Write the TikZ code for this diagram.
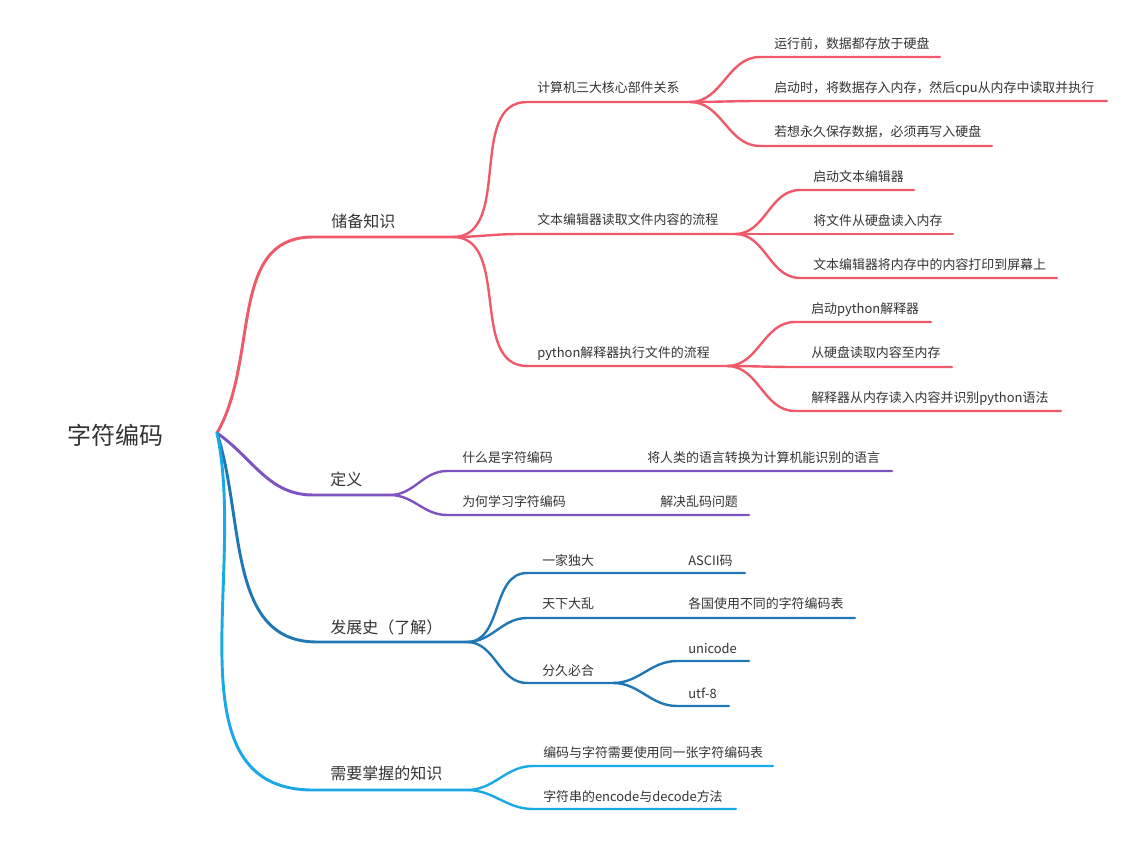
\documentclass[tikz,border=0pt]{standalone}
\usepackage{fontspec}
\setmainfont{Noto Sans CJK SC}
\usepackage{xcolor}
\usepackage{tikz}
\definecolor{brred}{HTML}{F0596A}
\definecolor{brpurple}{HTML}{7E52C0}
\definecolor{brblue}{HTML}{1F77B6}
\definecolor{brsky}{HTML}{1AA8E6}
\definecolor{txt}{HTML}{333333}

\begin{document}
\begin{tikzpicture}[x=0.75pt, y=-0.75pt,
  lvone/.style={anchor=base west, inner sep=0pt, text=txt, font=\fontsize{12}{14}\selectfont},
  lvtwo/.style={anchor=base west, inner sep=0pt, text=txt, font=\fontsize{9.7}{12}\selectfont},
  br/.style={line width=2.2pt, line cap=round},
  sub/.style={line width=1.8pt, line cap=round}]
\useasboundingbox (0,0) rectangle (1134,841);

% root
\node[inner sep=0pt, text=txt, font=\fontsize{18}{20}\selectfont] (root) at (115,435) {字符编码};
\coordinate (r) at (217,433);

% 储备知识
\coordinate (prep-a) at (313,237); \coordinate (prep-b) at (453,237);
\node[lvone] (prep) at (331,228) {储备知识};
\draw[br, brred] (r) to[out=60, in=180] (prep-a) -- (prep-b);

\coordinate (cpu-a) at (527,102); \coordinate (cpu-b) at (690,102);
\node[lvtwo] (cpu) at (537,93) {计算机三大核心部件关系};
\coordinate (edit-a) at (520,234); \coordinate (edit-b) at (735,234);
\node[lvtwo] (edit) at (537,225) {文本编辑器读取文件内容的流程};
\coordinate (run-a) at (527,366); \coordinate (run-b) at (727,366);
\node[lvtwo] (run) at (537,358) {python解释器执行文件的流程};
\draw[sub, brred] (prep-b) to[out=0, in=180] (cpu-a) -- (cpu-b);
\draw[sub, brred] (prep-b) to[out=0, in=180] (edit-a) -- (edit-b);
\draw[sub, brred] (prep-b) to[out=0, in=180] (run-a) -- (run-b);

\coordinate (c1-a) at (760,57); \coordinate (c1-b) at (940,57);
\node[lvtwo] (c1) at (774,49) {运行前，数据都存放于硬盘};
\coordinate (c2-a) at (760,101); \coordinate (c2-b) at (1107,101);
\node[lvtwo] (c2) at (774,93) {启动时，将数据存入内存，然后cpu从内存中读取并执行};
\coordinate (c3-a) at (760,146); \coordinate (c3-b) at (992,146);
\node[lvtwo] (c3) at (774,137) {若想永久保存数据，必须再写入硬盘};
\draw[sub, brred] (cpu-b) to[out=0, in=180] (c1-a) -- (c1-b);
\draw[sub, brred] (cpu-b) to[out=0, in=180] (c2-a) -- (c2-b);
\draw[sub, brred] (cpu-b) to[out=0, in=180] (c3-a) -- (c3-b);

\coordinate (e1-a) at (800,190); \coordinate (e1-b) at (914,190);
\node[lvtwo] (e1) at (813,182) {启动文本编辑器};
\coordinate (e2-a) at (800,234); \coordinate (e2-b) at (953,234);
\node[lvtwo] (e2) at (813,226) {将文件从硬盘读入内存};
\coordinate (e3-a) at (800,278); \coordinate (e3-b) at (1057,278);
\node[lvtwo] (e3) at (813,270) {文本编辑器将内存中的内容打印到屏幕上};
\draw[sub, brred] (edit-b) to[out=0, in=180] (e1-a) -- (e1-b);
\draw[sub, brred] (edit-b) to[out=0, in=180] (e2-a) -- (e2-b);
\draw[sub, brred] (edit-b) to[out=0, in=180] (e3-a) -- (e3-b);

\coordinate (p1-a) at (795,322); \coordinate (p1-b) at (931,322);
\node[lvtwo] (p1) at (811,314) {启动python解释器};
\coordinate (p2-a) at (795,367); \coordinate (p2-b) at (952,367);
\node[lvtwo] (p2) at (811,358) {从硬盘读取内容至内存};
\coordinate (p3-a) at (795,411); \coordinate (p3-b) at (1061,411);
\node[lvtwo] (p3) at (811,402) {解释器从内存读入内容并识别python语法};
\draw[sub, brred] (run-b) to[out=0, in=180] (p1-a) -- (p1-b);
\draw[sub, brred] (run-b) to[out=0, in=180] (p2-a) -- (p2-b);
\draw[sub, brred] (run-b) to[out=0, in=180] (p3-a) -- (p3-b);

% 定义
\coordinate (def-a) at (313,495); \coordinate (def-b) at (390,495);
\node[lvone] (def) at (330,485) {定义};
\draw[br, brpurple] (r) to[out=-35, in=180] (def-a) -- (def-b);

\coordinate (what-a) at (447,471); \coordinate (what-b) at (562,471);
\node[lvtwo] (what) at (462,462) {什么是字符编码};
\coordinate (mean-b) at (892,471);
\node[lvtwo] (mean) at (647,462) {将人类的语言转换为计算机能识别的语言};
\coordinate (why-a) at (447,515); \coordinate (why-b) at (575,515);
\node[lvtwo] (why) at (462,506) {为何学习字符编码};
\coordinate (fix-b) at (749,515);
\node[lvtwo] (fix) at (660,506) {解决乱码问题};
\draw[sub, brpurple] (def-b) to[out=0, in=180] (what-a) -- (what-b) -- (mean-b);
\draw[sub, brpurple] (def-b) to[out=0, in=180] (why-a) -- (why-b) -- (fix-b);

% 发展史
\coordinate (hist-a) at (317,642); \coordinate (hist-b) at (467,642);
\node[lvone] (hist) at (330,633) {发展史（了解）};
\draw[br, brblue] (r) to[out=-72, in=180] (hist-a) -- (hist-b);

\coordinate (mono-a) at (527,573); \coordinate (mono-b) at (603,573);
\node[lvtwo] (mono) at (542,565) {一家独大};
\coordinate (ascii-b) at (745,573);
\node[lvtwo] (ascii) at (688,565) {ASCII码};
\coordinate (chaos-a) at (527,618); \coordinate (chaos-b) at (603,618);
\node[lvtwo] (chaos) at (542,608) {天下大乱};
\coordinate (nat-b) at (855,618);
\node[lvtwo] (nat) at (688,608) {各国使用不同的字符编码表};
\coordinate (unite-a) at (527,683); \coordinate (unite-b) at (613,683);
\node[lvtwo] (unite) at (542,675) {分久必合};
\draw[sub, brblue] (hist-b) to[out=0, in=180] (mono-a) -- (mono-b) -- (ascii-b);
\draw[sub, brblue] (hist-b) to[out=0, in=180] (chaos-a) -- (chaos-b) -- (nat-b);
\draw[sub, brblue] (hist-b) to[out=0, in=180] (unite-a) -- (unite-b);

\coordinate (uni-a) at (677,661); \coordinate (uni-b) at (749,661);
\node[lvtwo] (uni) at (688,653) {unicode};
\coordinate (utf-a) at (677,706); \coordinate (utf-b) at (729,706);
\node[lvtwo] (utf) at (688,698) {utf-8};
\draw[sub, brblue] (unite-b) to[out=0, in=180] (uni-a) -- (uni-b);
\draw[sub, brblue] (unite-b) to[out=0, in=180] (utf-a) -- (utf-b);

% 需要掌握的知识
\coordinate (know-a) at (313,790); \coordinate (know-b) at (467,790);
\node[lvone] (know) at (330,779) {需要掌握的知识};
\draw[br, brsky] (r) to[out=-78, in=180] (know-a) -- (know-b);

\coordinate (same-a) at (533,766); \coordinate (same-b) at (773,766);
\node[lvtwo] (same) at (543,757) {编码与字符需要使用同一张字符编码表};
\coordinate (enc-a) at (533,809); \coordinate (enc-b) at (736,809);
\node[lvtwo] (enc) at (543,801) {字符串的encode与decode方法};
\draw[sub, brsky] (know-b) to[out=0, in=180] (same-a) -- (same-b);
\draw[sub, brsky] (know-b) to[out=0, in=180] (enc-a) -- (enc-b);
\end{tikzpicture}
\end{document}
